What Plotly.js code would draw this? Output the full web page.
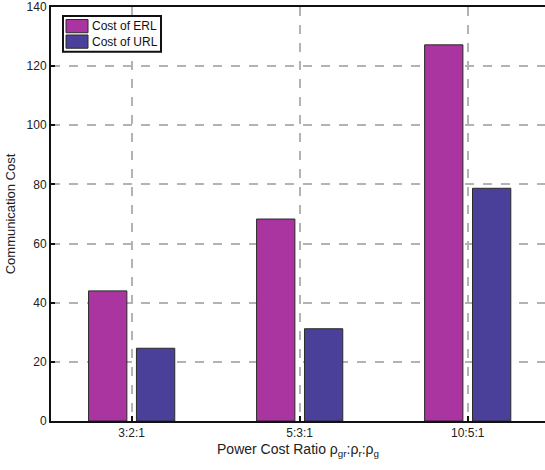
<!DOCTYPE html>
<html>
<head>
<meta charset="utf-8">
<script src="https://cdn.plot.ly/plotly-3.0.1.min.js"></script>
<style>html,body{margin:0;padding:0;overflow:hidden;background:#fff}</style>
</head>
<body>
<div id="chart" style="width:545px;height:470px"></div>
<script>
const categories = ["3:2:1", "5:3:1", "10:5:1"];
const costERL = [44.0, 68.3, 127.2];
const costURL = [24.6, 31.2, 78.7];
const seriesNames = ["Cost of ERL", "Cost of URL"];
const seriesColors = ["#AA34A0", "#4A409A"];
const yTicks = [0, 20, 40, 60, 80, 100, 120, 140];

const font = "Liberation Sans, Arial, sans-serif";
const traces = [costERL, costURL].map((vals, i) => ({
  type: "bar", x: categories, y: vals, name: seriesNames[i],
  marker: {color: seriesColors[i], line: {color: "#2a2a2a", width: 1}}
}));

// Custom legend (MATLAB style wide swatches), paper coordinates
const legendShapes = [
  {type: "rect", xref: "paper", yref: "paper", x0: 0.0243, x1: 0.2227, y0: 0.892, y1: 0.978,
   line: {color: "#111", width: 2}, fillcolor: "#fff", layer: "above"}
];
const legendAnn = [];
const rowTop = [0.9698, 0.9324];
seriesNames.forEach((name, i) => {
  legendShapes.push({type: "rect", xref: "paper", yref: "paper",
    x0: 0.0304, x1: 0.0749, y0: rowTop[i] - 0.032, y1: rowTop[i],
    fillcolor: seriesColors[i], line: {color: "#2a2a2a", width: 1}, layer: "above"});
  legendAnn.push({xref: "paper", yref: "paper", x: 0.079, y: rowTop[i] - 0.016,
    xanchor: "left", yanchor: "middle", showarrow: false, text: name,
    font: {family: font, size: 12, color: "#111"}});
});

const layout = {
  width: 545, height: 470,
  margin: {l: 51, r: 0, t: 7, b: 49},
  paper_bgcolor: "#fff", plot_bgcolor: "#fff",
  barmode: "group", bargap: 0.43, bargroupgap: 0.2,
  font: {family: font, size: 12, color: "#222"},
  showlegend: false,
  shapes: legendShapes,
  annotations: legendAnn,
  xaxis: {type: "category", range: [-0.48, 2.46],
    showline: true, linecolor: "#111", linewidth: 2, mirror: true,
    showgrid: true, gridcolor: "#b3b3b3", griddash: "dash", gridwidth: 2,
    ticks: "inside", ticklen: 5, tickcolor: "#111", tickwidth: 2,
    tickfont: {family: font, size: 12, color: "#222"},
    title: {text: "Power Cost Ratio ρ<sub>gr</sub>:ρ<sub>r</sub>:ρ<sub>g</sub>",
      font: {family: font, size: 14, color: "#222"}, standoff: 5},
    zeroline: false, fixedrange: true},
  yaxis: {range: [0, 140], tickvals: yTicks,
    showline: true, linecolor: "#111", linewidth: 2, mirror: false,
    showgrid: true, gridcolor: "#b3b3b3", griddash: "dash", gridwidth: 2,
    ticks: "inside", ticklen: 4, tickcolor: "#111", tickwidth: 2,
    tickfont: {family: font, size: 12, color: "#222"},
    title: {text: "Communication Cost", font: {family: font, size: 13, color: "#222"}, standoff: 8},
    zeroline: false, fixedrange: true}
};
Plotly.newPlot("chart", traces, layout, {displayModeBar: false, staticPlot: true});
</script>
</body>
</html>
